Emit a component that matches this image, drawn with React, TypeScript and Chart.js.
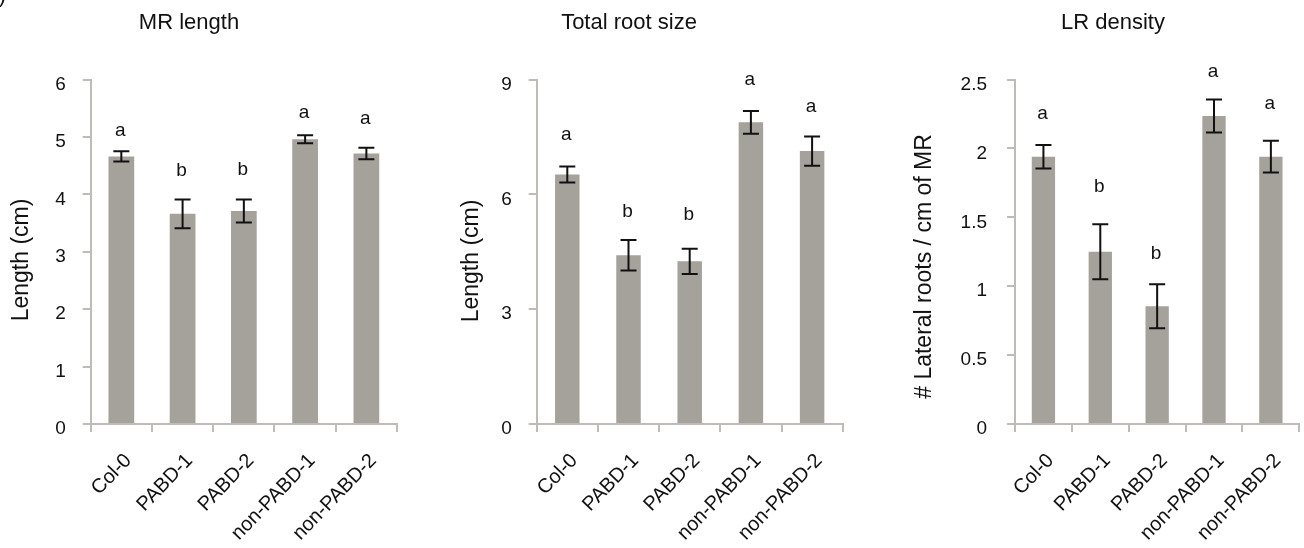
import React, { useEffect, useRef } from "react";
import { Chart, registerables } from "chart.js";

Chart.register(...registerables);

const FONT = "'Liberation Sans', Arial, Helvetica, sans-serif";
Chart.defaults.font.family = FONT;

// ---------- data ----------
const categories = ["Col-0", "PABD-1", "PABD-2", "non-PABD-1", "non-PABD-2"];

const mrLengthValues = [4.66, 3.66, 3.71, 4.96, 4.71];
const mrLengthErrors = [0.09, 0.25, 0.2, 0.07, 0.1];
const mrLengthLetters = ["a", "b", "b", "a", "a"];
const mrLengthLetterY = [5.02, 4.32, 4.34, 5.33, 5.23];

const totalRootValues = [6.52, 4.41, 4.25, 7.88, 7.13];
const totalRootErrors = [0.21, 0.4, 0.33, 0.3, 0.38];
const totalRootLetters = ["a", "b", "b", "a", "a"];
const totalRootLetterY = [7.41, 5.42, 5.33, 8.85, 8.14];

const lrDensityValues = [1.94, 1.25, 0.855, 2.235, 1.94];
const lrDensityErrors = [0.085, 0.2, 0.16, 0.12, 0.115];
const lrDensityLetters = ["a", "b", "b", "a", "a"];
const lrDensityLetterY = [2.216, 1.683, 1.2, 2.52, 2.287];

const BAR = "#a5a29c";
const AXIS = "#bfbcb7";
const INK = "#111111";

type PanelDef = {
  title: string;
  yTitle: string;
  values: number[];
  errors: number[];
  letters: string[];
  letterY: number[];
  yMax: number;
  yStep: number;
  // layout (page px)
  left: number;
  width: number;
  chartLeft: number;
  chartRight: number;
  titleX: number;
  yTitleX: number;
  yTitleY: number;
  tickPad: number;
  barPct: number;
  corner?: boolean;
};

const panels: PanelDef[] = [
  {
    title: "MR length",
    yTitle: "Length (cm)",
    values: mrLengthValues,
    errors: mrLengthErrors,
    letters: mrLengthLetters,
    letterY: mrLengthLetterY,
    yMax: 6,
    yStep: 1,
    left: 0,
    width: 440,
    chartLeft: 90.7,
    chartRight: 397,
    titleX: 189,
    yTitleX: 22,
    yTitleY: 260,
    tickPad: 17,
    barPct: 0.42,
    corner: true,
  },
  {
    title: "Total root size",
    yTitle: "Length (cm)",
    values: totalRootValues,
    errors: totalRootErrors,
    letters: totalRootLetters,
    letterY: totalRootLetterY,
    yMax: 9,
    yStep: 3,
    left: 440,
    width: 435,
    chartLeft: 536.7,
    chartRight: 842.7,
    titleX: 629,
    yTitleX: 471.7,
    yTitleY: 261,
    tickPad: 17,
    barPct: 0.4,
  },
  {
    title: "LR density",
    yTitle: "# Lateral roots / cm of MR",
    values: lrDensityValues,
    errors: lrDensityErrors,
    letters: lrDensityLetters,
    letterY: lrDensityLetterY,
    yMax: 2.5,
    yStep: 0.5,
    left: 875,
    width: 429,
    chartLeft: 1015,
    chartRight: 1299.3,
    titleX: 1113,
    yTitleX: 925,
    yTitleY: 266.5,
    tickPad: 20,
    barPct: 0.41,
  },
];

const HEIGHT = 548;
const CHART_TOP = 79.5;
const CHART_BOTTOM = 424;

function Panel({ p }: { p: PanelDef }) {
  const ref = useRef<HTMLCanvasElement | null>(null);

  useEffect(() => {
    if (!ref.current) return;

    const decorate = {
      id: "decorate" + p.title,
      afterDatasetsDraw(chart: any) {
        const ctx = chart.ctx as CanvasRenderingContext2D;
        const xs = chart.scales.x;
        const ys = chart.scales.y;
        ctx.save();
        // error bars
        ctx.strokeStyle = INK;
        ctx.lineWidth = 2;
        p.values.forEach((v, i) => {
          const cx = xs.getPixelForValue(i);
          const top = ys.getPixelForValue(v + p.errors[i]);
          const bot = ys.getPixelForValue(v - p.errors[i]);
          const half = 8;
          ctx.beginPath();
          ctx.moveTo(cx, top);
          ctx.lineTo(cx, bot);
          ctx.moveTo(cx - half, top);
          ctx.lineTo(cx + half, top);
          ctx.moveTo(cx - half, bot);
          ctx.lineTo(cx + half, bot);
          ctx.stroke();
        });
        // significance letters
        ctx.fillStyle = INK;
        ctx.font = `19px ${FONT}`;
        ctx.textAlign = "center";
        ctx.textBaseline = "alphabetic";
        p.letters.forEach((l, i) => {
          ctx.fillText(l, xs.getPixelForValue(i) - 1, ys.getPixelForValue(p.letterY[i]));
        });
        ctx.restore();
      },
      afterDraw(chart: any) {
        const ctx = chart.ctx as CanvasRenderingContext2D;
        ctx.save();
        ctx.fillStyle = INK;
        // panel title
        ctx.font = `22px ${FONT}`;
        ctx.textAlign = "center";
        ctx.textBaseline = "alphabetic";
        ctx.fillText(p.title, p.titleX - p.left, 28.5);
        if (p.corner) {
          ctx.textAlign = "right";
          ctx.fillText(")", 6, 2);
        }
        // y-axis title
        ctx.font = `23px ${FONT}`;
        ctx.translate(p.yTitleX - p.left, p.yTitleY);
        ctx.rotate(-Math.PI / 2);
        ctx.textAlign = "center";
        ctx.textBaseline = "middle";
        ctx.fillText(p.yTitle, 0, 0);
        ctx.restore();
      },
    };

    const chart = new Chart(ref.current, {
      type: "bar",
      data: {
        labels: categories,
        datasets: [
          {
            data: p.values,
            backgroundColor: BAR,
            borderWidth: 0,
            barPercentage: p.barPct,
            categoryPercentage: 1,
          },
        ],
      },
      options: {
        animation: false,
        responsive: false,
        maintainAspectRatio: false,
        events: [],
        layout: {
          padding: {
            left: 0,
            top: CHART_TOP,
            right: p.left + p.width - p.chartRight,
            bottom: 0,
          },
        },
        plugins: {
          legend: { display: false },
          title: { display: false },
          tooltip: { enabled: false },
        },
        scales: {
          x: {
            offset: true,
            grid: {
              display: true,
              offset: true,
              drawOnChartArea: false,
              drawTicks: true,
              tickLength: 8,
              color: AXIS,
              lineWidth: 2,
            },
            border: { display: true, color: AXIS, width: 2 },
            ticks: {
              autoSkip: false,
              maxRotation: 46,
              minRotation: 46,
              padding: 17,
              labelOffset: 7,
              color: INK,
              font: { size: 20, family: FONT },
            },
            afterFit(scale: any) {
              scale.height = HEIGHT - CHART_BOTTOM;
              scale.paddingLeft = 0;
              scale.paddingRight = 0;
            },
          },
          y: {
            min: 0,
            max: p.yMax,
            grid: {
              display: true,
              drawOnChartArea: false,
              drawTicks: true,
              tickLength: 8,
              color: AXIS,
              lineWidth: 2,
            },
            border: { display: true, color: AXIS, width: 2 },
            ticks: {
              stepSize: p.yStep,
              padding: p.tickPad,
              labelOffset: 5,
              color: INK,
              font: { size: 19, family: FONT },
              callback: (v: any) => String(v),
            },
            afterFit(scale: any) {
              scale.width = p.chartLeft - p.left;
              scale.paddingTop = 0;
              scale.paddingBottom = 0;
            },
          },
        },
      },
      plugins: [decorate],
    });

    return () => chart.destroy();
  }, [p]);

  return (
    <canvas
      ref={ref}
      width={p.width}
      height={HEIGHT}
      style={{
        position: "absolute",
        left: p.left,
        top: 0,
        width: p.width,
        height: HEIGHT,
      }}
    />
  );
}

export default function App() {
  return (
    <div
      style={{
        position: "absolute",
        left: 0,
        top: 0,
        width: 1304,
        height: HEIGHT,
        background: "#ffffff",
        overflow: "hidden",
      }}
    >
      {panels.map((p) => (
        <Panel key={p.title} p={p} />
      ))}
    </div>
  );
}
